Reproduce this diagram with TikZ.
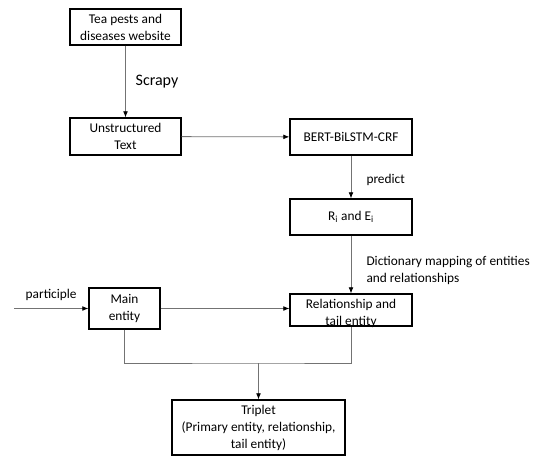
\documentclass[tikz,border=0pt]{standalone}
\usepackage{fontspec}
\setmainfont{Carlito}
\usetikzlibrary{arrows.meta}
\tikzset{
  box/.style={draw, line width=1pt, align=center, inner sep=0pt},
  link/.style={draw=black!55, line width=0.6pt},
  arrow/.style={link, -{Latex[length=4.5pt, width=3.6pt, color=black]}},
}
\begin{document}
\begin{tikzpicture}[x=0.75pt, y=-0.75pt, font=\fontsize{10}{12.75}\selectfont]
  \useasboundingbox (0, 0) rectangle (538, 457);

  % Website and text
  \node [box, minimum width=83.25pt, minimum height=27pt] (web) at (125.5, 27)
    {Tea pests and\\diseases website};
  \node [box, minimum width=83.25pt, minimum height=27.75pt] (text) at (125.5, 136.5)
    {Unstructured\\Text};
  \draw [arrow] (web) -- (text) node [midway, right=4pt,
    font=\fontsize{12}{14}\selectfont] {Scrapy};

  % Model
  \node [box, minimum width=91.5pt, minimum height=27pt] (bert) at (351, 137)
    {BERT-BiLSTM-CRF};
  \draw [arrow] (text) -- (bert);
  \node [box, minimum width=91.5pt, minimum height=27pt] (ri) at (351, 217)
    {R\textsubscript{i} and E\textsubscript{i}};
  \draw [arrow] (bert) -- (ri) node [pos=0.57, right=8pt] {predict};

  % Entities
  \node [box, minimum width=53.25pt, minimum height=30.75pt] (main) at (124.5, 308.5)
    {Main\\entity};
  \node [box, minimum width=91.5pt, minimum height=24pt] (rel) at (351, 310) {};
  \node [align=center, inner sep=0pt] (reltext) at ([yshift=-2.5pt]rel.center)
    {Relationship and\\tail entity};
  \draw [arrow] (ri) -- (rel) node [pos=0.6, right=8pt, align=left]
    {Dictionary mapping of entities\\and relationships};
  \coordinate (start) at (14, 308.5);
  \draw [arrow] (start) -- (main) node [midway, above=2pt] {participle};
  \draw [arrow] (main.east) -- (main.east -| rel.west);

  % Triplet
  \node [box, minimum width=129.75pt, minimum height=41.25pt] (trip) at (258.5, 427.5)
    {Triplet\\(Primary entity, relationship,\\tail entity)};
  \coordinate (join) at (258.5, 363);
  \draw [link] (main.south) |- (join) -| (rel.south);
  \draw [arrow] (join) -- (trip);
\end{tikzpicture}
\end{document}
